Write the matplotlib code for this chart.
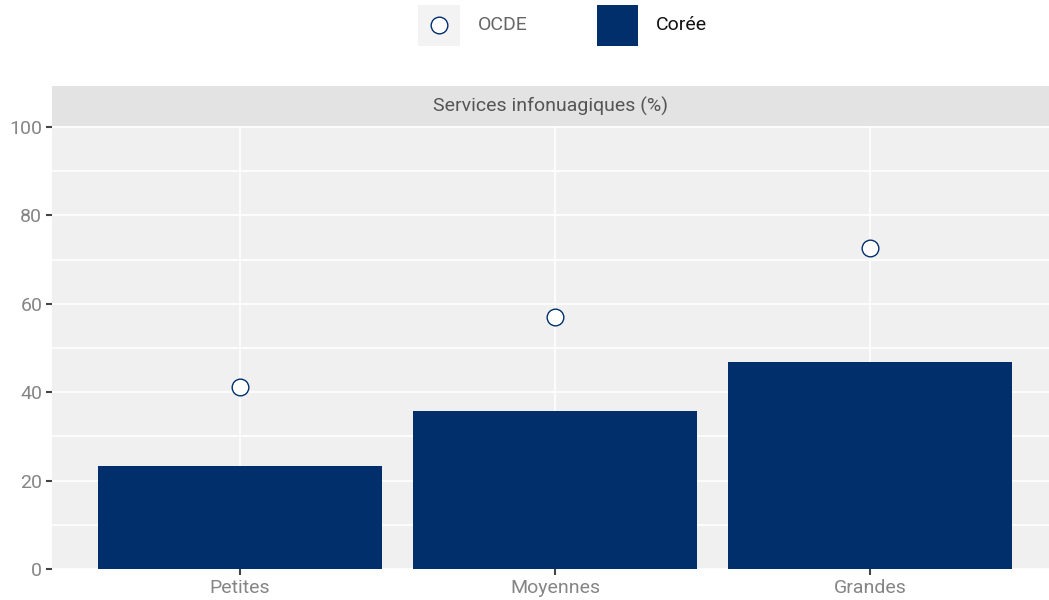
import matplotlib.pyplot as plt
from matplotlib.patches import Rectangle
import numpy as np

categories = ['Petites', 'Moyennes', 'Grandes']
coree = [23.3, 35.7, 46.8]
ocde = [41.2, 57.0, 72.6]
yticks = [0, 20, 40, 60, 80, 100]

navy = '#002f6c'
grey_txt = '#858585'

plt.rcParams['font.family'] = ['Roboto', 'DejaVu Sans']

W, H = 1049, 600
fig = plt.figure(figsize=(W / 100, H / 100), dpi=100)

# panel
x0, x1, ytop, ybot = 52, 1049, 126, 569
ax = fig.add_axes([x0 / W, 1 - ybot / H, (x1 - x0) / W, (ybot - ytop) / H])
ax.set_facecolor('#f0f0f0')
xs = np.arange(1, len(categories) + 1)
ax.set_xlim(0.403, 3.568)
ax.set_ylim(0, 100.2)
ax.set_yticks(yticks)
ax.set_yticks([10, 30, 50, 70, 90], minor=True)
ax.set_xticks(xs)
ax.set_xticklabels(categories)
ax.grid(True, which='both', color='white', lw=1.2, zorder=0)
ax.set_axisbelow(True)
for s in ax.spines.values():
    s.set_visible(False)
ax.tick_params(axis='both', which='major', colors='#444444', length=4, width=1.5,
               labelcolor=grey_txt, labelsize=14, pad=3)
ax.tick_params(axis='y', which='minor', length=0)

ax.bar(xs, coree, width=0.9, color=navy, zorder=2)
ax.plot(xs, ocde, 'o', ms=12, mfc='white', mec=navy, mew=1.0, ls='none', zorder=3)

# strip
sx = fig.add_axes([x0 / W, 1 - ytop / H, (x1 - x0) / W, 40 / H])
sx.set_facecolor('#e3e3e3')
sx.set_xticks([])
sx.set_yticks([])
for s in sx.spines.values():
    s.set_visible(False)
sx.text(0.5, 0.5, 'Services infonuagiques (%)', ha='center', va='center',
        fontsize=14, color='#555555', transform=sx.transAxes)

# legend
def px(x, y):
    return x / W, 1 - y / H

fig.patches.append(Rectangle(px(418, 46), 42 / W, 41 / H, transform=fig.transFigure,
                             facecolor='#f3f3f3', edgecolor='none'))
fig.lines.append(plt.Line2D([439 / W], [1 - 25 / H], marker='o', ms=12, mfc='white',
                            mec=navy, mew=1.0, transform=fig.transFigure))
fig.text(*px(478, 25), 'OCDE', va='center', ha='left', fontsize=14, color='#666666')
fig.patches.append(Rectangle(px(597, 46), 41 / W, 41 / H, transform=fig.transFigure,
                             facecolor=navy, edgecolor='none'))
fig.text(*px(656, 25), 'Corée', va='center', ha='left', fontsize=14, color='#111111')

fig.savefig('out.png', dpi=100)
